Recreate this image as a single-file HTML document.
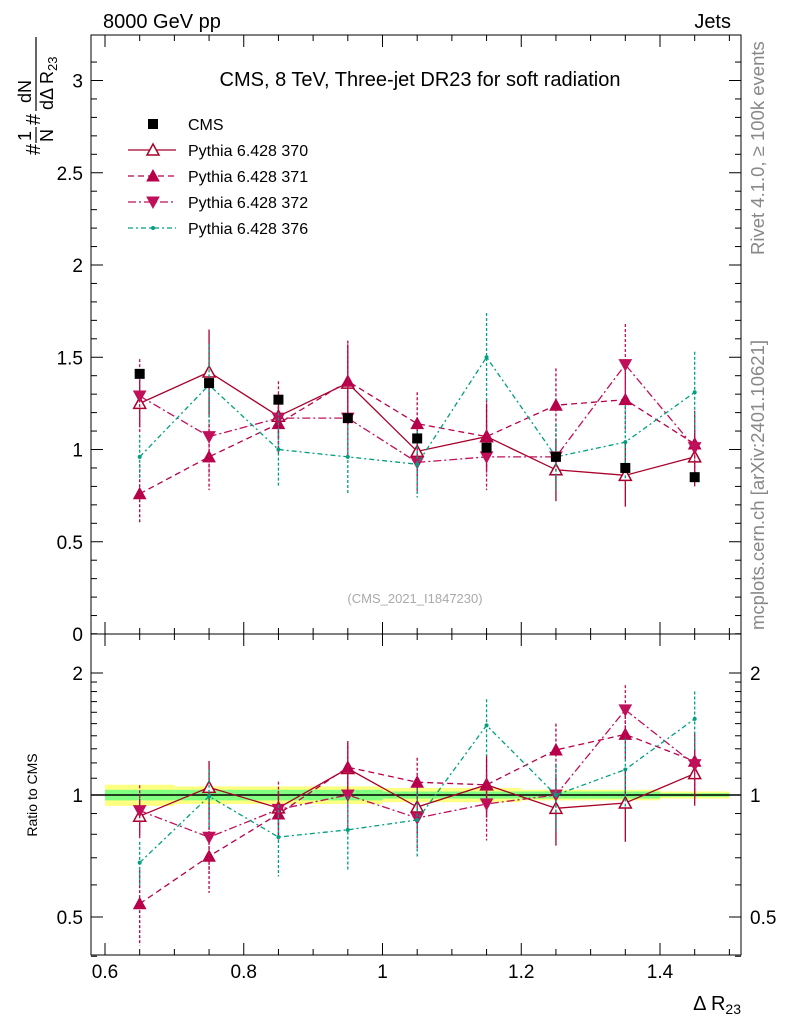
<!DOCTYPE html>
<html><head><meta charset="utf-8"><style>
body{margin:0;background:#fff;}
svg{font-family:"Liberation Sans",sans-serif;}
</style></head><body>
<svg id="c" width="786" height="1024" viewBox="0 0 786 1024">
<text x="103" y="28" font-size="20">8000 GeV pp</text>
<text x="731" y="28" font-size="20" text-anchor="end">Jets</text>
<text x="420" y="86" font-size="20" text-anchor="middle">CMS, 8 TeV, Three-jet DR23 for soft radiation</text>
<text x="415" y="603" font-size="13" fill="#aaa" text-anchor="middle">(CMS_2021_I1847230)</text>
<text transform="translate(764,255) rotate(-90)" font-size="18.5" fill="#888">Rivet 4.1.0, ≥ 100k events</text>
<text transform="translate(764,630) rotate(-90)" font-size="18.5" fill="#888">mcplots.cern.ch [arXiv:2401.10621]</text>
<g transform="translate(40,155) rotate(-90)" font-size="20">
 <text x="0" y="0">#</text>
 <text x="14" y="-9" font-size="18">1</text>
 <line x1="12" x2="28" y1="-4" y2="-4" stroke="#000" stroke-width="1.2"/>
 <text x="13" y="13" font-size="18">N</text>
 <text x="30" y="0">#</text>
 <text x="52" y="-9" font-size="18">dN</text>
 <line x1="44" x2="118" y1="-4" y2="-4" stroke="#000" stroke-width="1.2"/>
 <text x="45" y="13" font-size="18">dΔ R<tspan font-size="13" dy="4">23</tspan></text>
</g>
<text transform="translate(37,795) rotate(-90)" font-size="14" text-anchor="middle">Ratio to CMS</text>
<text x="741" y="1010" font-size="20" text-anchor="end">Δ R<tspan font-size="14" dy="4">23</tspan></text>
<g id="g"></g>
</svg>
<script>
const xs=[0.65,0.75,0.85,0.95,1.05,1.15,1.25,1.35,1.45];
const cms=[1.41,1.36,1.27,1.17,1.06,1.01,0.96,0.90,0.85];
const s370=[1.25,1.42,1.18,1.36,0.99,1.07,0.89,0.86,0.96];
const s371=[0.76,0.96,1.14,1.37,1.14,1.07,1.24,1.27,1.03];
const s372=[1.29,1.07,1.17,1.17,0.93,0.96,0.96,1.46,1.01];
const s376=[0.96,1.35,1.00,0.96,0.92,1.50,0.96,1.04,1.31];
const err370=[0.13,0.23,0.12,0.21,0.14,0.18,0.17,0.17,0.16];
const err371=[0.16,0.18,0.15,0.22,0.17,0.20,0.20,0.18,0.18];
const err372=[0.20,0.20,0.20,0.22,0.16,0.18,0.18,0.22,0.18];
const err376=[0.12,0.22,0.20,0.20,0.18,0.24,0.18,0.20,0.22];
const bandY=[0.06,0.05,0.05,0.05,0.04,0.04,0.03,0.03,0.02];
const bandG=[0.03,0.03,0.03,0.03,0.02,0.02,0.02,0.02,0.01];
const mainTicks=[0,0.5,1,1.5,2,2.5,3];
const mainTickLabels=["0","0.5","1","1.5","2","2.5","3"];
const xTicks=[0.6,0.8,1.0,1.2,1.4];
const xTickLabels=["0.6","0.8","1","1.2","1.4"];
const rTicks=[0.5,1,2];
const rTickLabels=["0.5","1","2"];
const L=91,R=741,T=35,M=634,B=955;
const X=v=>105+(v-0.6)*693.75;
const Y=v=>634-v*184.5;
const YR=v=>795-Math.log2(v)*122;
const g=document.getElementById('g');
const NS='http://www.w3.org/2000/svg';
function el(t,a,p){const e=document.createElementNS(NS,t);for(const k in a)e.setAttribute(k,a[k]);(p||g).appendChild(e);return e;}
for(let i=0;i<xs.length;i++){
 let r=el('rect',{x:X(xs[i]-0.05),y:YR(1+bandY[i]),width:X(0.1)-X(0),height:YR(1-bandY[i])-YR(1+bandY[i]),fill:'#ffff80'});
 
 r=el('rect',{x:X(xs[i]-0.05),y:YR(1+bandG[i]),width:X(0.1)-X(0),height:YR(1-bandG[i])-YR(1+bandG[i]),fill:'#80ff80'});
 
}
let ln=el('line',{x1:L,x2:R,y1:YR(1),y2:YR(1),stroke:'#000','stroke-width':1.5});

let f=el('rect',{x:L,y:T,width:R-L,height:M-T,fill:'none',stroke:'#000'});

f=el('rect',{x:L,y:M,width:R-L,height:B-M,fill:'none',stroke:'#000'});

for(let v=0;v<=3.2;v+=0.1){const y=Y(v);const maj=Math.abs(v*2-Math.round(v*2))<1e-6;const w=maj?12:6;
 el('line',{x1:L,x2:L+w,y1:y,y2:y,stroke:'#000'});el('line',{x1:R,x2:R-w,y1:y,y2:y,stroke:'#000'});}
mainTicks.forEach((v,i)=>{const t=el('text',{x:83,y:Y(v)+7,'font-size':19,'text-anchor':'end'});t.textContent=mainTickLabels[i];
 });
[0.4,0.5,0.6,0.7,0.8,0.9,1,1.1,1.2,1.3,1.4,1.5,1.6,1.7,1.8,1.9,2,2.5].forEach(v=>{const y=YR(v);const maj=[0.5,1,2].includes(v);const w=maj?12:6;
 el('line',{x1:L,x2:L+w,y1:y,y2:y,stroke:'#000'});el('line',{x1:R,x2:R-w,y1:y,y2:y,stroke:'#000'});});
rTicks.forEach((v,i)=>{let t=el('text',{x:83,y:YR(v)+7,'font-size':19,'text-anchor':'end'});t.textContent=rTickLabels[i];
 
 t=el('text',{x:750,y:YR(v)+7,'font-size':19});t.textContent=rTickLabels[i];
 });
for(let k=0;k<=19;k++){const v=0.6+k*0.05;if(v>1.52)break;const x=X(v);const maj=k%4==0;const w=maj?12:6;
 [[T,1],[M,-1],[M,1],[B,-1]].forEach(([y0,d])=>el('line',{x1:x,x2:x,y1:y0,y2:y0+d*w,stroke:'#000'}));}
xTicks.forEach((v,i)=>{const t=el('text',{x:X(v),y:978,'font-size':19,'text-anchor':'middle'});t.textContent=xTickLabels[i];
 });
function marker(type,x,y,col){
 if(type=='sq')return el('rect',{x:x-5,y:y-5,width:10,height:10,fill:'#000'});
 if(type=='tri')return el('polygon',{points:`${x},${y-6} ${x-6},${y+5} ${x+6},${y+5}`,fill:'#fff',stroke:col,'stroke-width':1.5});
 if(type=='tric')return el('polygon',{points:`${x},${y-6} ${x-6},${y+5} ${x+6},${y+5}`,fill:col,stroke:col});
 if(type=='inv')return el('polygon',{points:`${x},${y+6} ${x-6},${y-5} ${x+6},${y-5}`,fill:col,stroke:col});
 return el('circle',{cx:x,cy:y,r:2,fill:col});
}
const series=[
 {n:'pythia-370',v:s370,e:err370,c:'#a8002a',d:'',m:'tri'},
 {n:'pythia-371',v:s371,e:err371,c:'#b8004a',d:'6,4',m:'tric'},
 {n:'pythia-372',v:s372,e:err372,c:'#c0105a',d:'8,3,2,3',m:'inv'},
 {n:'pythia-376',v:s376,e:err376,c:'#00a080',d:'5,3,2,3',m:'dot'}];
series.forEach(s=>{
 [[Y,s.v,s.e,'main'],[YR,s.v.map((v,i)=>v/cms[i]),s.e.map((e,i)=>e/cms[i]),'ratio']].forEach(([fy,vals,errs,pn])=>{
  const p=el('polyline',{points:xs.map((x,i)=>X(x)+','+fy(vals[i])).join(' '),fill:'none',stroke:s.c,'stroke-width':1.3,'stroke-dasharray':s.d});
  
  xs.forEach((x,i)=>{const e=el('line',{x1:X(x),x2:X(x),y1:fy(vals[i]+errs[i]),y2:fy(Math.max(vals[i]-errs[i],0.41)),stroke:s.c,'stroke-width':1.3,'stroke-dasharray':s.d?'3,2':''});
   
   const m=marker(s.m,X(x),fy(vals[i]),s.c);});
 });
});
xs.forEach((x,i)=>{const m=marker('sq',X(x),Y(cms[i]));});
const lg=[['CMS','sq','#000',''],['Pythia 6.428 370','tri','#a8002a',''],['Pythia 6.428 371','tric','#b8004a','6,4'],['Pythia 6.428 372','inv','#c0105a','8,3,2,3'],['Pythia 6.428 376','dot','#00a080','5,3,2,3']];
lg.forEach((l,i)=>{const y=124+i*26;
 if(l[1]!='sq'){const q=el('line',{x1:128,x2:176,y1:y,y2:y,stroke:l[2],'stroke-width':1.3,'stroke-dasharray':l[3]});}
 const m=marker(l[1],153,y,l[2]);
 const t=el('text',{x:188,y:y+6,'font-size':16});t.textContent=l[0];});
</script>
</body></html>
